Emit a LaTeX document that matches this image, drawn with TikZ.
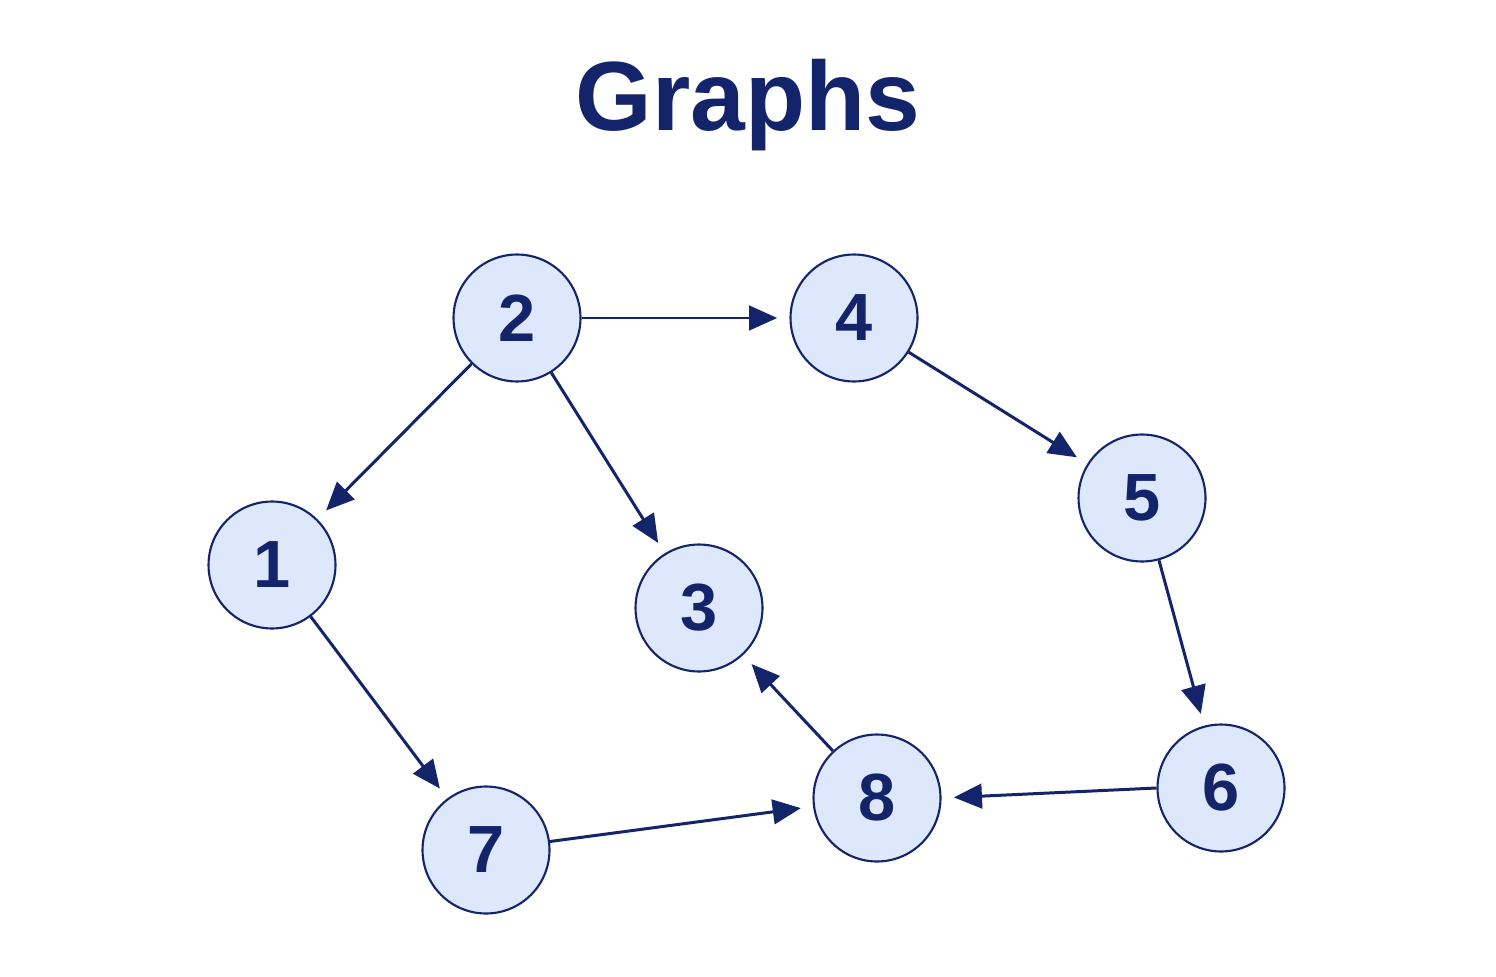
\documentclass[tikz,border=0pt]{standalone}
\usepackage{fontspec}
\setmainfont{Liberation Sans}
\usetikzlibrary{arrows.meta}
\definecolor{navy}{HTML}{14246A}
\definecolor{pale}{HTML}{DDE8FC}
\tikzset{
every picture/.style={
line width=1.7pt
}}
\begin{document}
\begin{tikzpicture}[x=0.02cm, y=-0.02cm,
vertex/.style = {circle, draw=navy, fill=pale, line width=1.2pt, minimum size=2.54cm, inner sep=0pt, text=navy, font=\fontsize{38}{40}\selectfont\bfseries},
edge/.style = {draw=navy, -{Triangle[length=16pt, width=14pt]}, shorten >=7pt}]
\useasboundingbox (0,0) rectangle (1496,976);
\node[text=navy, font=\fontsize{56}{60}\selectfont\bfseries] at (748,105) (title) {Graphs};
\node[vertex] at (517,318) (n2) {2};
\node[vertex] at (854,318) (n4) {4};
\node[vertex] at (272,565) (n1) {1};
\node[vertex] at (699,608) (n3) {3};
\node[vertex] at (1142,498) (n5) {5};
\node[vertex] at (1221,788) (n6) {6};
\node[vertex] at (486,850) (n7) {7};
\node[vertex] at (877,798) (n8) {8};
\draw[edge] (n2.east) -- (n4.west);
\draw[edge] (n2) -- (n1);
\draw[edge] (n2) -- (n3);
\draw[edge] (n4) -- (n5);
\draw[edge] (n5) -- (n6);
\draw[edge] (n6.west) -- (n8.east);
\draw[edge] (n8) -- (n3);
\draw[edge] (n1) -- (n7);
\draw[edge] (n7) -- (n8);
\end{tikzpicture}
\end{document}
